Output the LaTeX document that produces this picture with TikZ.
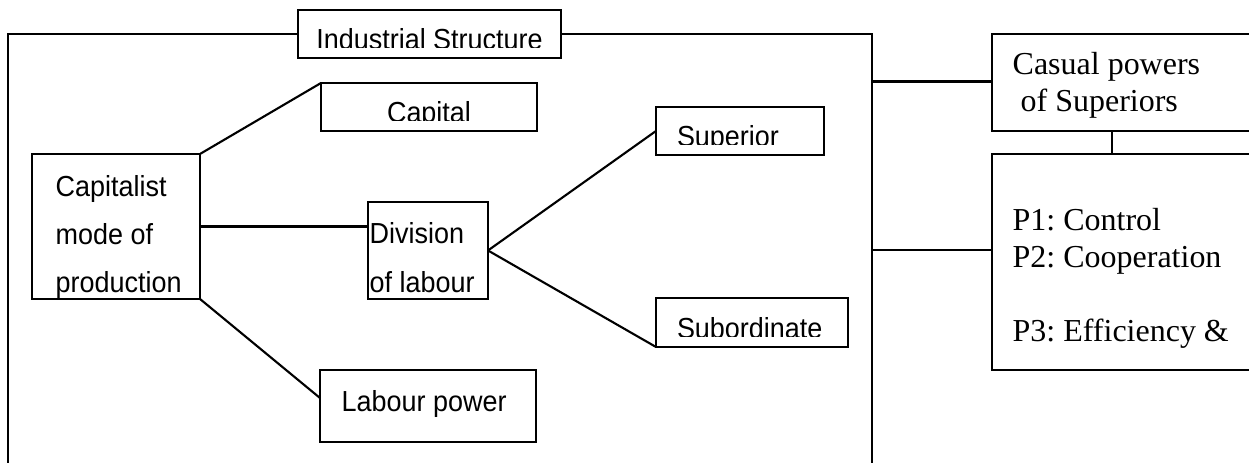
\documentclass[tikz,border=0pt]{standalone}
\usepackage{fontspec}
\setmainfont{Liberation Serif}
\newfontfamily\arialnarrow[FakeStretch=0.93]{Liberation Sans}
\newcommand{\sansfnt}{\arialnarrow\fontsize{8.25}{9.9}\selectfont}
\newcommand{\seriffnt}{\frenchspacing\fontsize{9.1}{10.5}\selectfont}
\usepackage{tikz}

\begin{document}
\begin{tikzpicture}[
  box/.style={draw, fill=white, line width=0.6pt, inner sep=0pt, outer sep=0pt},
  cutbox/.style={box, path picture={
    \clip ([yshift=0.1cm]path picture bounding box.south west) rectangle (path picture bounding box.north east);
    \node[draw=none, fill=none, inner sep=0pt, minimum size=0pt, font=\sansfnt, anchor=base]
      at ([yshift=0.085cm]path picture bounding box.south) {#1};}},
  cutboxl/.style={box, path picture={
    \clip ([yshift=0.1cm]path picture bounding box.south west) rectangle (path picture bounding box.north east);
    \node[draw=none, fill=none, inner sep=0pt, minimum size=0pt, font=\sansfnt, anchor=base west]
      at ([shift={(0.21,0.085)}]path picture bounding box.south west) {#1};}},
  sans/.style={font=\sansfnt, inner sep=0pt, anchor=base west},
  serif/.style={font=\seriffnt, inner sep=0pt, anchor=base west},
  link/.style={line width=0.6pt},
  conn/.style={line width=0.6pt}
]

\useasboundingbox (0, 0) rectangle (12.49, 4.63);
\clip (0, 0) rectangle (12.49, 4.63);

% industrial structure frame, open at the bottom
\node[box, minimum width=8.64cm, minimum height=4.59cm] (frame) at (4.40, 1.995) {};
\node[cutbox=Industrial Structure, minimum width=2.63cm, minimum height=0.48cm] (ind) at (4.295, 4.29) {};

\node[box, minimum width=1.68cm, minimum height=1.45cm] (cmp) at (1.16, 2.365) {};
\node[cutbox=Capital, minimum width=2.16cm, minimum height=0.48cm] (capl) at (4.29, 3.56) {};
\node[box, minimum width=1.20cm, minimum height=0.97cm] (div) at (4.28, 2.125) {};
\node[box, minimum width=2.16cm, minimum height=0.72cm] (lab) at (4.28, 0.57) {};
\node[cutboxl=Superior, minimum width=1.68cm, minimum height=0.48cm] (sup) at (7.40, 3.32) {};
\node[cutboxl=Subordinate, minimum width=1.92cm, minimum height=0.49cm] (sub) at (7.52, 1.405) {};

% causal powers, cut by the page edge
\node[box, minimum width=3.08cm, minimum height=0.97cm] (cas) at (11.46, 3.805) {};
\node[box, minimum width=3.08cm, minimum height=2.16cm] (pw) at (11.46, 2.01) {};

\node[sans] (cmp1) at (0.55, 2.66) {Capitalist};
\node[sans] (cmp2) at (0.55, 2.18) {mode of};
\node[sans] (cmp3) at (0.55, 1.70) {production};
\node[sans] (div1) at (3.69, 2.19) {Division};
\node[sans] (div2) at (3.69, 1.70) {of labour};
\node[sans] (lab1) at (3.41, 0.51) {Labour power};

\node[serif] (cas1) at (10.12, 3.88) {Casual powers};
\node[serif] (cas2) at (10.20, 3.51) {of Superiors};
\node[serif] (pw1) at (10.12, 2.32) {P1: Control};
\node[serif] (pw2) at (10.12, 1.95) {P2: Cooperation};
\node[serif] (pw3) at (10.12, 1.21) {P3: Efficiency \&};

\draw[link] (cmp.north east) -- (capl.north west);
\draw[link] (cmp.east) -- (div.west |- cmp.east);
\draw[link] (cmp.south east) -- ([yshift=0.08cm]lab.west);
\draw[link] (div.east) -- (sup.west);
\draw[link] (div.east) -- (sub.south west);

\draw[conn] (frame.east |- 0, 3.815) -- (cas.west |- 0, 3.815);
\draw[conn] (frame.east |- 0, 2.13) -- (pw.west |- 0, 2.13);
\draw[conn] (cas.south -| 11.12, 0) -- (pw.north -| 11.12, 0);

\end{tikzpicture}
\end{document}
